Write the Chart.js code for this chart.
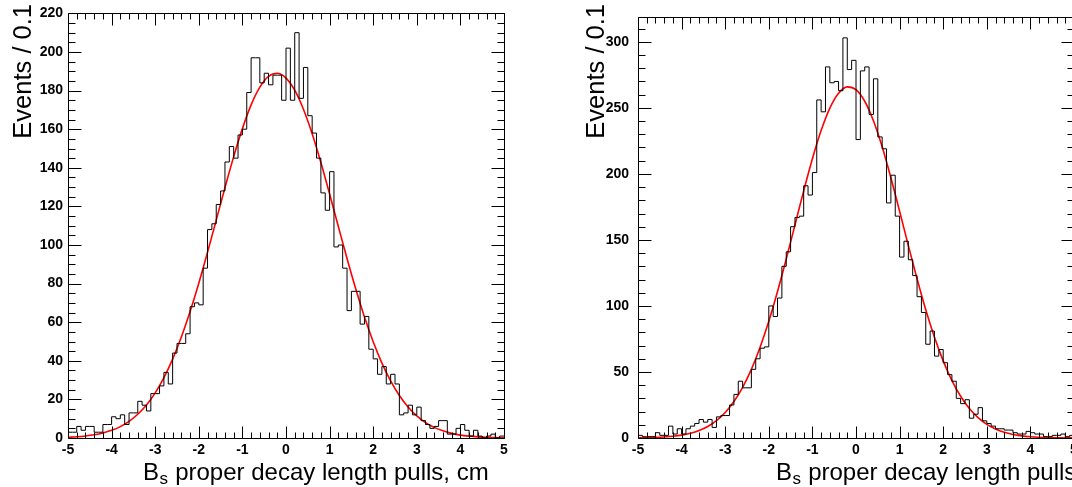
<!DOCTYPE html>
<html><head><meta charset="utf-8">
<script src="https://cdn.jsdelivr.net/npm/chart.js@4.4.1/dist/chart.umd.min.js"></script>
<style>
html,body{margin:0;padding:0;background:#fff;overflow:hidden;width:1072px;height:487px;}
canvas{position:absolute;top:0;}
#c1{left:0;} #c2{left:570px;}
</style></head><body>
<canvas id="c1" width="536" height="487"></canvas>
<canvas id="c2" width="536" height="487"></canvas>
<script>
// ---- data ----
const xMin = -5, xMax = 5, binWidth = 0.1;
const xTitle = 'Bₛ proper decay length pulls, cm';
const yTitle = 'Events / 0.1';

const leftCounts = [3,3,6,4,6,6,3,3,7,7, 11,10,12,7,13,13,19,17,14,23,
  23,27,34,28,44,49,49,54,68,70, 69,88,108,111,121,128,143,151,145,157,
  160,179,197,197,184,189,183,188,188,175, 202,175,210,176,192,167,158,145,127,118,
  138,99,100,88,66,76,76,59,63,46, 41,33,37,28,33,28,12,13,17,12,
  16,9,7,5,6,9,9,2,2,5, 7,4,1,4,1,0,1,2,0,1];

const rightCounts = [2,1,1,1,4,2,2,9,3,7, 3,7,9,11,14,12,14,8,16,17,
  17,25,33,43,38,38,52,60,68,69, 100,92,106,130,141,160,167,168,191,184,
  201,256,247,281,269,270,263,303,279,286, 226,278,281,245,272,228,219,178,199,168,
  137,149,135,123,107,95,71,81,62,67, 57,48,43,30,26,29,15,18,23,13,
  11,9,7,7,6,6,4,3,3,5, 4,3,3,1,1,2,2,3,1,2];

const fitX = [-5,-4.8,-4.6,-4.4,-4.2,-4,-3.8,-3.6,-3.4,-3.2,-3,-2.8,-2.6,-2.4,-2.2,-2,-1.8,-1.6,-1.4,-1.2,
  -1,-0.8,-0.6,-0.4,-0.2,0,0.2,0.4,0.6,0.8,1,1.2,1.4,1.6,1.8,2,2.2,2.4,2.6,2.8,3,3.2,3.4,3.6,3.8,4,4.2,4.4,4.6,4.8,5];
const leftFit = [0.39,0.65,1.06,1.68,2.61,3.97,5.91,8.62,12.3,17.1,23.4,31.3,40.9,52.3,65.5,80.2,96.2,112.9,129.7,145.8,
  160.3,172.6,181.8,187.4,189.0,186.5,180.2,170.3,157.6,142.7,126.4,109.6,93.0,77.2,62.7,49.9,38.8,29.6,22.0,16.1,
  11.5,8.0,5.5,3.7,2.4,1.5,0.96,0.59,0.35,0.21,0.12];
const rightFit = [0.13,0.24,0.44,0.77,1.32,2.2,3.58,5.67,8.75,13.2,19.3,27.6,38.4,52.0,68.7,88.4,110.9,135.5,161.3,187.1,
  211.5,232.8,249.8,261.1,265.9,263.8,255.0,240.2,220.5,197.1,171.7,145.8,120.6,97.1,76.3,58.4,43.5,31.6,22.3,15.4,
  10.3,6.77,4.31,2.68,1.62,0.96,0.55,0.31,0.17,0.09,0.05];

const leftYMax = 220, leftYStep = 20, leftYMinor = 5;
const rightYMax = 318.5, rightYStep = 50, rightYMinor = 10;
const xStep = 1, xMinorStep = 0.2;

// ---- rendering ----
const FONT = "'Liberation Sans', Arial, Helvetica, sans-serif";
Chart.defaults.font.family = FONT;
Chart.defaults.color = '#000';

const binEdges = leftCounts.map((_, i) => +(xMin + i * binWidth).toFixed(2));
function histPoints(counts) {
  const pts = counts.map((c, i) => ({x: binEdges[i], y: c}));
  pts.push({x: xMax, y: counts[counts.length - 1]});
  return pts;
}

const frameTicks = {
  id: 'frameTicks',
  afterDatasetsDraw(chart, args, o) {
    const {ctx, chartArea: a, scales: {x, y}} = chart;
    const L = Math.round(a.left) + 0.5, R = Math.round(a.right) + 0.5;
    const T = Math.round(a.top) + 0.5, B = Math.round(a.bottom) + 0.5;
    ctx.save();
    ctx.strokeStyle = '#000';
    ctx.lineWidth = 1;
    ctx.beginPath();
    const nx = Math.round((x.max - x.min) / o.xMinor);
    for (let k = 0; k <= nx; k++) {
      const v = x.min + k * o.xMinor;
      const major = Math.abs(v / o.xMajor - Math.round(v / o.xMajor)) < 1e-6;
      const len = major ? o.xMajorLen : o.xMinorLen;
      const px = Math.round(x.getPixelForValue(v)) + 0.5;
      ctx.moveTo(px, B); ctx.lineTo(px, B - len);
      ctx.moveTo(px, T); ctx.lineTo(px, T + len);
    }
    const ny = Math.floor((y.max - y.min) / o.yMinor + 1e-6);
    for (let k = 0; k <= ny; k++) {
      const v = y.min + k * o.yMinor;
      const major = Math.abs(v / o.yMajor - Math.round(v / o.yMajor)) < 1e-6;
      const len = major ? o.yMajorLen : o.yMinorLen;
      const py = Math.round(y.getPixelForValue(v)) + 0.5;
      ctx.moveTo(L, py); ctx.lineTo(L + len, py);
      ctx.moveTo(R, py); ctx.lineTo(R - len, py);
    }
    ctx.stroke();
    ctx.beginPath();
    ctx.rect(L, T, R - L, B - T);
    ctx.stroke();
    ctx.restore();
  }
};

// axis titles drawn from the scales' own title texts (ROOT-like placement, subscript support)
const axisTitles = {
  id: 'axisTitles',
  afterDraw(chart, args, o) {
    const ctx = chart.ctx;
    ctx.save();
    ctx.fillStyle = '#000';
    // x title
    const text = chart.options.scales.x.title.text;
    ctx.textAlign = 'left';
    ctx.textBaseline = 'alphabetic';
    let x = o.xTitleX;
    const subMap = {'ₛ': 's'};
    let run = '';
    const flush = () => {
      if (!run) return;
      ctx.font = o.size + 'px ' + FONT;
      ctx.fillText(run, x, o.xBaseline);
      x += ctx.measureText(run).width;
      run = '';
    };
    for (const ch of text) {
      if (subMap[ch]) {
        flush();
        ctx.font = o.subSize + 'px ' + FONT;
        ctx.fillText(subMap[ch], x + 0.5, o.xBaseline + o.subDrop);
        x += ctx.measureText(subMap[ch]).width + 1;
      } else run += ch;
    }
    flush();
    // y title (rotated, aligned to the top)
    ctx.font = o.ySize + 'px ' + FONT;
    ctx.translate(o.yTitleX, o.yTitleTop);
    ctx.rotate(-Math.PI / 2);
    ctx.textAlign = 'right';
    ctx.textBaseline = 'middle';
    ctx.fillText(chart.options.scales.y.title.text, 0, 0);
    ctx.restore();
  }
};

function makeChart(id, counts, fit, yMax, yStep, yMinor, labelPad, yTitleX, xTitleX) {
  return new Chart(document.getElementById(id), {
    type: 'line',
    data: {
      datasets: [
        { data: histPoints(counts), stepped: 'before', borderColor: '#000', borderWidth: 1,
          pointRadius: 0, fill: false },
        { data: fitX.map((x, i) => ({x, y: fit[i]})), borderColor: '#ff0000', borderWidth: 1.6,
          pointRadius: 0, cubicInterpolationMode: 'monotone', fill: false }
      ]
    },
    options: {
      responsive: false, animation: false, events: [],
      layout: { padding: { left: 0, top: 9, right: 32, bottom: 0 } },
      plugins: {
        legend: { display: false }, tooltip: { enabled: false },
        frameTicks: { xMajor: xStep, xMinor: xMinorStep, yMajor: yStep, yMinor: yMinor,
          xMajorLen: 12, xMinorLen: 6, yMajorLen: 13, yMinorLen: 7 },
        axisTitles: { xTitleX: xTitleX, xBaseline: 480, size: 24, subSize: 17, subDrop: 4,
          yTitleX: yTitleX, yTitleTop: 4, ySize: 25.5 }
      },
      scales: {
        x: {
          type: 'linear', min: xMin, max: xMax,
          afterFit: s => { s.height = 49; },
          grid: { display: false, drawTicks: false }, border: { display: false },
          ticks: { stepSize: xStep, padding: 4, autoSkip: false, maxRotation: 0,
            font: { size: 14, weight: 'bold' }, color: '#000' },
          title: { display: false, text: xTitle }
        },
        y: {
          type: 'linear', min: 0, max: yMax,
          afterFit: s => { s.width = 68; },
          grid: { display: false, drawTicks: false }, border: { display: false },
          ticks: { stepSize: yStep, padding: labelPad, includeBounds: false,
            font: { size: 14, weight: 'bold' }, color: '#000' },
          title: { display: false, text: yTitle }
        }
      }
    },
    plugins: [frameTicks, axisTitles]
  });
}

makeChart('c1', leftCounts, leftFit, leftYMax, leftYStep, leftYMinor, 5, 24, 143);
makeChart('c2', rightCounts, rightFit, rightYMax, rightYStep, rightYMinor, 9, 27, 206);
</script>
</body></html>
